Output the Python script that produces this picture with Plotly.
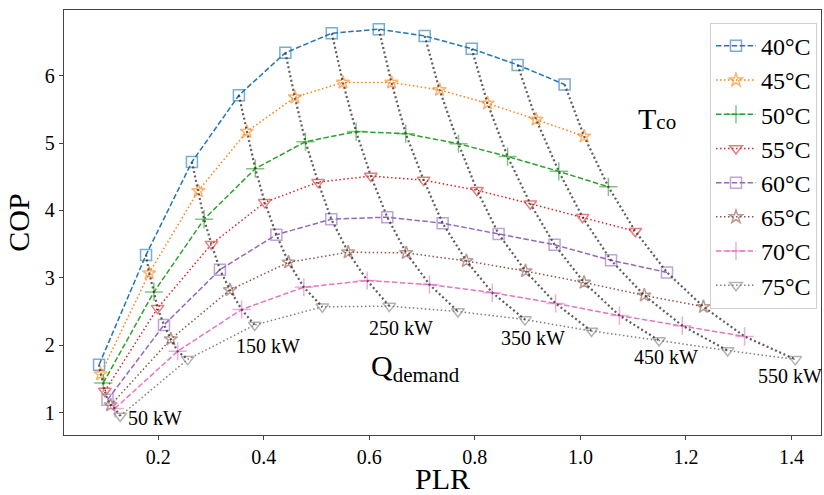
import plotly.graph_objects as go

# ---------------- data ----------------
T_CO = [40, 45, 50, 55, 60, 65, 70, 75]          # condenser temperature, degC
Q_DEMAND = [50, 100, 150, 200, 250, 300, 350, 400, 450, 500, 550]  # kW

PLR_40 = [0.088, 0.177, 0.264, 0.353, 0.441, 0.529, 0.618, 0.705, 0.794, 0.881, 0.970]
COP_40 = [1.71, 3.34, 4.72, 5.71, 6.34, 6.63, 6.69, 6.59, 6.40, 6.16, 5.87]
PLR_45 = [0.091, 0.183, 0.276, 0.368, 0.459, 0.550, 0.642, 0.733, 0.824, 0.916, 1.007]
COP_45 = [1.57, 3.07, 4.29, 5.17, 5.68, 5.90, 5.90, 5.79, 5.59, 5.35, 5.10]
PLR_50 = [0.096, 0.192, 0.287, 0.384, 0.479, 0.575, 0.669, 0.769, 0.862, 0.959, 1.053]
COP_50 = [1.44, 2.79, 3.87, 4.62, 5.02, 5.17, 5.14, 4.99, 4.80, 4.58, 4.35]
PLR_55 = [0.099, 0.199, 0.301, 0.402, 0.503, 0.603, 0.703, 0.804, 0.905, 1.004, 1.104]
COP_55 = [1.32, 2.55, 3.50, 4.12, 4.42, 4.51, 4.45, 4.30, 4.10, 3.90, 3.69]
PLR_60 = [0.104, 0.211, 0.317, 0.424, 0.528, 0.634, 0.739, 0.845, 0.951, 1.058, 1.164]
COP_60 = [1.19, 2.30, 3.12, 3.64, 3.87, 3.90, 3.81, 3.65, 3.49, 3.26, 3.08]
PLR_65 = [0.110, 0.224, 0.336, 0.447, 0.560, 0.670, 0.784, 0.896, 1.007, 1.121, 1.233]
COP_65 = [1.11, 2.09, 2.82, 3.23, 3.38, 3.37, 3.25, 3.10, 2.93, 2.74, 2.57]
PLR_70 = [0.118, 0.237, 0.358, 0.476, 0.596, 0.714, 0.833, 0.953, 1.074, 1.193, 1.311]
COP_70 = [1.06, 1.91, 2.53, 2.86, 2.96, 2.90, 2.78, 2.62, 2.44, 2.29, 2.13]
PLR_75 = [0.128, 0.256, 0.383, 0.511, 0.638, 0.768, 0.895, 1.021, 1.149, 1.279, 1.407]
COP_75 = [0.95, 1.79, 2.30, 2.57, 2.58, 2.50, 2.38, 2.21, 2.07, 1.92, 1.79]

X_TICKS = [0.2, 0.4, 0.6, 0.8, 1.0, 1.2, 1.4]
Y_TICKS = [1, 2, 3, 4, 5, 6]

PLRS = [PLR_40, PLR_45, PLR_50, PLR_55, PLR_60, PLR_65, PLR_70, PLR_75]
COPS = [COP_40, COP_45, COP_50, COP_55, COP_60, COP_65, COP_70, COP_75]

# ---------------- styles ----------------
COLORS = ["31,119,180", "255,127,14", "44,160,44", "214,39,40",
          "148,103,189", "140,86,75", "227,119,194", "127,127,127"]
SYMBOLS = ["square-open", "star-open", "cross-thin-open", "triangle-down-open",
           "square-open", "star-open", "cross-thin-open", "triangle-down-open"]
SIZES = [11, 10, 13, 11, 11, 10, 13, 11]
DASHED = "5.5px,2.4px"
DOTTED = "1.5px,2.5px"
DASHES = [DASHED, DOTTED] * 4
FONT = "Liberation Serif, Times New Roman, serif"

fig = go.Figure()

for t, xs, ys, c, sym, sz, d in zip(T_CO, PLRS, COPS, COLORS, SYMBOLS, SIZES, DASHES):
    fig.add_trace(go.Scatter(
        x=xs, y=ys, mode="lines+markers", name=f"{t}°C",
        line=dict(color=f"rgb({c})", width=1.5, dash=d),
        marker=dict(symbol=sym, size=sz, color=f"rgba({c},0.6)",
                    line=dict(color=f"rgba({c},0.6)", width=1.5)),
    ))

# iso-Q_demand lines
for i, q in enumerate(Q_DEMAND):
    fig.add_trace(go.Scatter(
        x=[p[i] for p in PLRS], y=[c[i] for c in COPS], mode="lines",
        line=dict(color="rgba(40,40,40,0.75)", width=2.2, dash="2px,2.6px"),
        showlegend=False, hoverinfo="skip",
    ))

# Q labels
label_pos = {50: (0.194, 0.915), 150: (0.4085, 1.99), 250: (0.6605, 2.255),
             350: (0.911, 2.105), 450: (1.1625, 1.82), 550: (1.397, 1.54)}
for q in Q_DEMAND:
    if q in label_pos:
        lx, ly = label_pos[q]
        fig.add_annotation(x=lx, y=ly, text=f"{q} kW", showarrow=False,
                           font=dict(family=FONT, size=20, color="black"))

fig.add_annotation(x=0.688, y=1.66, text="Q<sub>demand</sub>", showarrow=False,
                   font=dict(family=FONT, size=30, color="black"))
fig.add_annotation(x=1.146, y=5.36,
                   text="T<span style='font-size:21px'>co</span>", showarrow=False,
                   font=dict(family=FONT, size=30, color="black"))

axis_common = dict(
    showgrid=False, zeroline=False, showline=True, linecolor="#444", linewidth=1.3,
    mirror=True, ticks="outside", ticklen=4, tickcolor="#444", tickwidth=1,
    tickfont=dict(family=FONT, size=20, color="black"),
)
fig.update_xaxes(range=[0.0216, 1.4558], tickvals=X_TICKS,
                 ticktext=[f"{v:.1f}" for v in X_TICKS],
                 title=dict(text="PLR", font=dict(family=FONT, size=30, color="black"),
                            standoff=4),
                 **axis_common)
fig.update_yaxes(range=[0.667, 6.975], tickvals=Y_TICKS,
                 ticktext=[str(v) for v in Y_TICKS],
                 title=dict(text="COP", font=dict(family=FONT, size=30, color="black"),
                            standoff=6),
                 **axis_common)

fig.update_layout(
    width=824, height=495,
    margin=dict(l=64, r=2, t=10, b=57),
    plot_bgcolor="white", paper_bgcolor="white",
    font=dict(family=FONT, color="black"),
    legend=dict(x=0.9947, y=0.97, xanchor="right", yanchor="top",
                bgcolor="rgba(255,255,255,0.85)", bordercolor="#d0d0d0", borderwidth=1,
                font=dict(family=FONT, size=24, color="black"),
                tracegroupgap=0, itemwidth=40),
    showlegend=True,
)

fig.write_html("out.html")
